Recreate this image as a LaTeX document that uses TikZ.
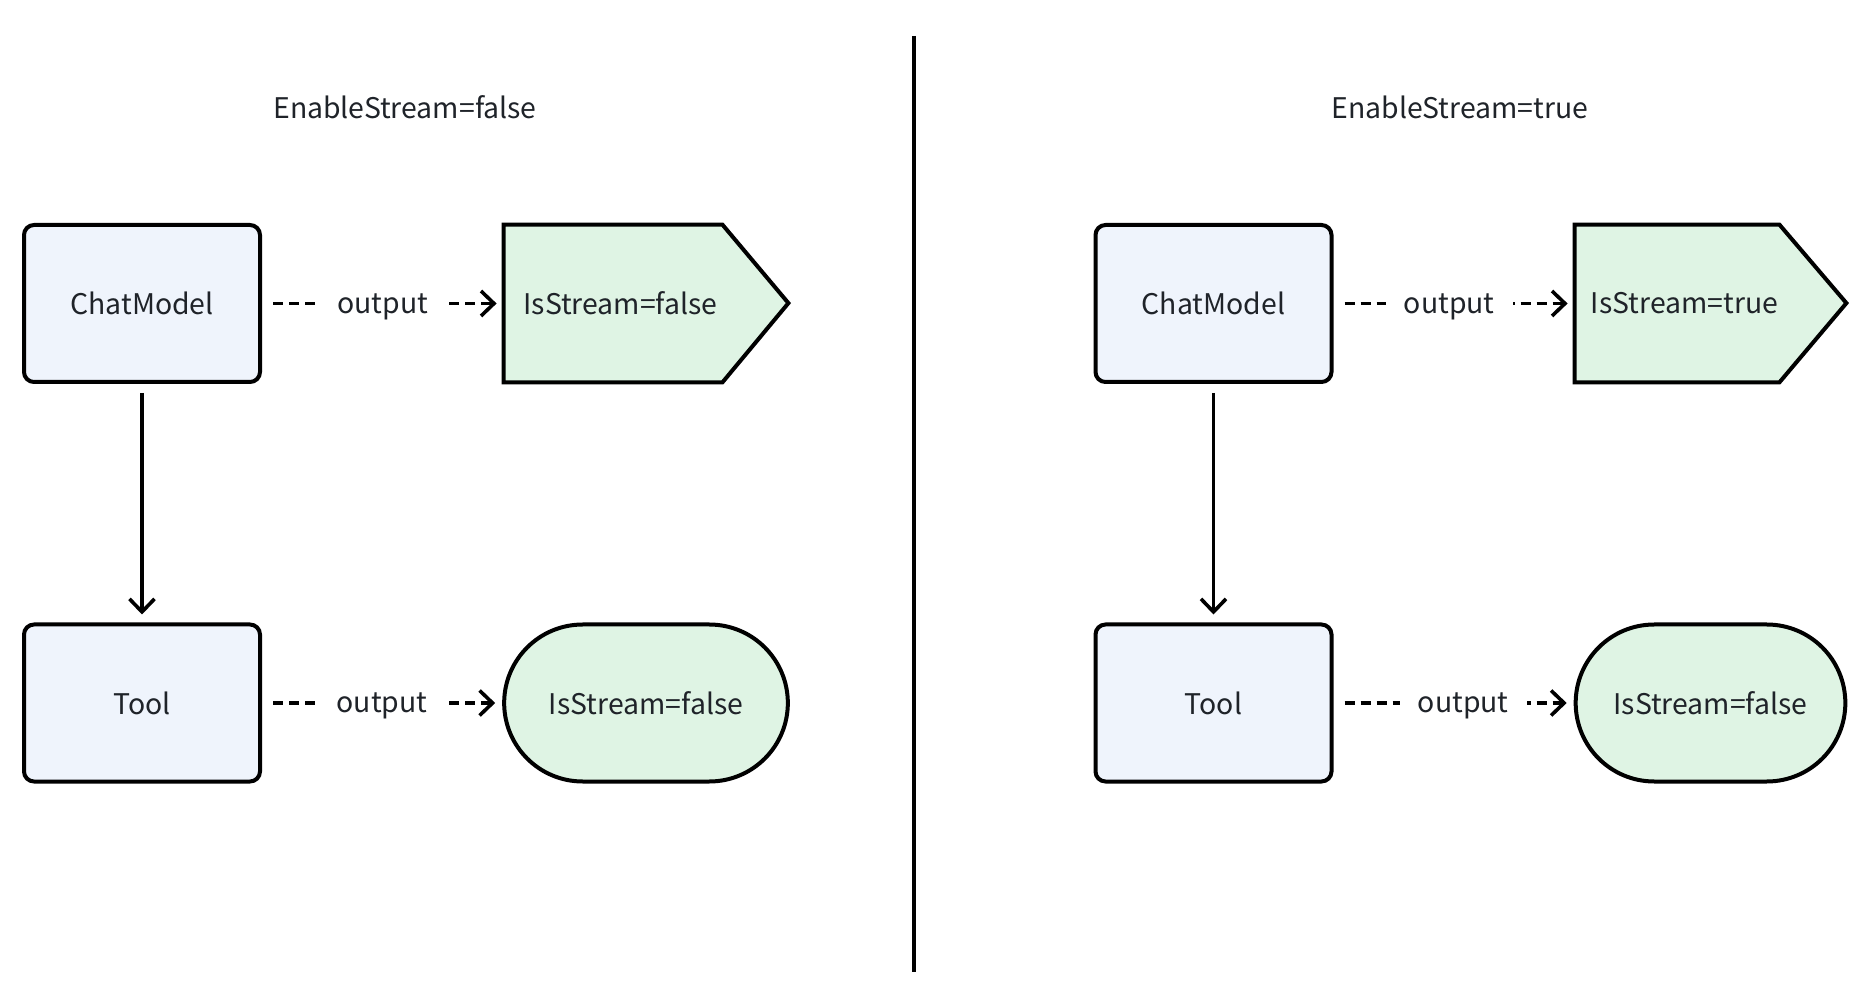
\documentclass[tikz,border=0pt]{standalone}
\usepackage{fontspec}
\setmainfont{Noto Sans CJK SC}
\usetikzlibrary{arrows.meta}
\usetikzlibrary{shapes.misc}
\usetikzlibrary{backgrounds}

\definecolor{boxblue}{HTML}{EFF4FC}
\definecolor{boxgreen}{HTML}{DFF4E4}
\definecolor{txtgray}{HTML}{1F2329}

\tikzset{
    compbox/.style={draw=black,line width=2pt,fill=boxblue,rounded corners=5pt,
        minimum width=118pt,minimum height=78.5pt,text=txtgray},
    streamcap/.style={draw=black,line width=2pt,fill=boxgreen,rounded rectangle,
        minimum height=78.5pt,text=txtgray},
    streamflag/.style={minimum height=78.5pt,inner xsep=0pt,text=txtgray,
        execute at begin node={\hspace*{7.5pt}}},
    flowarrow/.style={line width=1.8pt,-{Straight Barb[length=6.5pt,width=12.5pt]}},
    outarrow/.style={flowarrow,dash pattern=on 5pt off 3pt,shorten <=5.5pt,shorten >=3.5pt},
    outlabel/.style={fill=white,inner xsep=9pt,text depth=0pt,text=txtgray}
}

\begin{document}
\begin{tikzpicture}[x=0.5pt,y=-0.5pt,font=\fontsize{14.2pt}{17pt}\selectfont]
        \useasboundingbox (0,0) rectangle (1870,989);

        % left half
        \node[text=txtgray] (titleL) at (405,107) {EnableStream=false};
        \node[compbox] (cmL) at (142,303.5) {ChatModel};
        \node[compbox] (toolL) at (142,703) {Tool};
        \node[streamflag,minimum width=109pt] (sfL) at (613,303.5) {IsStream=false};
        \node[streamcap,minimum width=148.5pt] (stL) at (646,703) {IsStream=false};

        % right half
        \node[text=txtgray] (titleR) at (1460,107) {EnableStream=true};
        \node[compbox] (cmR) at (1213.5,303.5) {ChatModel};
        \node[compbox] (toolR) at (1213.5,703) {Tool};
        \node[streamflag,minimum width=102pt] (sfR) at (1677,303.5) {IsStream=true};
        \node[streamcap,minimum width=141.5pt] (stR) at (1710.5,703) {IsStream=false};

        \begin{scope}[on background layer]
            \filldraw[line width=2pt,fill=boxgreen] (sfL.north west) -- (sfL.north east)
                -- ++(33pt,-39.25pt) -- (sfL.south east) -- (sfL.south west) -- cycle;
            \filldraw[line width=2pt,fill=boxgreen] (sfR.north west) -- (sfR.north east)
                -- ++(33.5pt,-39.25pt) -- (sfR.south east) -- (sfR.south west) -- cycle;
        \end{scope}

        \draw[outarrow] (cmL) -- node[outlabel] {output} (sfL);
        \draw[outarrow] (toolL) -- node[outlabel] {output} (stL);
        \draw[flowarrow,shorten <=4.5pt,shorten >=4pt] (cmL) -- (toolL);

        \draw[outarrow] (cmR) -- node[outlabel,pos=0.48] {output} (sfR);
        \draw[outarrow] (toolR) -- node[outlabel,pos=0.54] {output} (stR);
        \draw[flowarrow,shorten <=4.5pt,shorten >=4pt] (cmR) -- (toolR);

        % divider
        \coordinate (divtop) at (914,36);
        \coordinate (divbot) at (914,972);
        \draw[line width=2pt] (divtop) -- (divbot);
    \end{tikzpicture}
\end{document}
